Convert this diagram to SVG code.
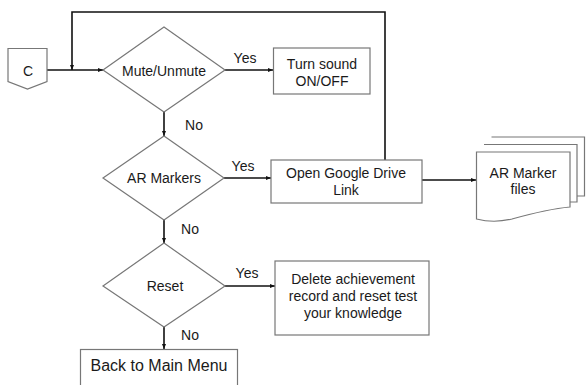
<svg xmlns="http://www.w3.org/2000/svg" width="587" height="385" viewBox="0 0 587 385">
<defs>
<style>
.shape{fill:#fff;stroke:#777;stroke-width:1.2}
.conn{fill:none;stroke:#111;stroke-width:1.6}
text{font-family:"Liberation Sans",Arial,sans-serif;font-size:14px;fill:#1a1a1a;text-anchor:middle;dominant-baseline:central}
</style>
<marker id="ah" viewBox="0 0 10 10" refX="10" refY="5" markerWidth="5" markerHeight="5" orient="auto" markerUnits="userSpaceOnUse">
<path d="M0,1 L10,5 L0,9 z" fill="#111"/>
</marker>
</defs>
<rect width="587" height="385" fill="#fff"/>
<g id="connectors">
<path class="conn" d="M47,70 H103" marker-end="url(#ah)"/>
<path class="conn" d="M385,160 V12 H72 V70" marker-end="url(#ah)"/>
<path class="conn" d="M225,70 H273" marker-end="url(#ah)"/>
<path class="conn" d="M164,112 V136" marker-end="url(#ah)"/>
<path class="conn" d="M224,178 H271" marker-end="url(#ah)"/>
<path class="conn" d="M422,180 H476" marker-end="url(#ah)"/>
<path class="conn" d="M164,220 V243" marker-end="url(#ah)"/>
<path class="conn" d="M225,286 H275" marker-end="url(#ah)"/>
<path class="conn" d="M164,327 V349" marker-end="url(#ah)"/>
<text x="245" y="58">Yes</text>
<text x="194" y="125">No</text>
<text x="243" y="166">Yes</text>
<text x="190" y="229">No</text>
<text x="247" y="273">Yes</text>
<text x="190" y="335">No</text>
</g>
<g id="connector-c">
<path class="shape" d="M8,48.5 H47 V81.5 L27.5,89 L8,81.5 Z"/>
<text x="28" y="71">C</text>
</g>
<g id="mute">
<path class="shape" d="M164,27 L225,70 L164,112 L103,70 Z"/>
<text x="164" y="71">Mute/Unmute</text>
</g>
<g id="turn-sound">
<rect class="shape" x="273.5" y="48" width="96.5" height="46"/>
<text x="322" y="64">Turn sound</text>
<text x="322" y="81">ON/OFF</text>
</g>
<g id="ar-markers">
<path class="shape" d="M164,136 L224,178 L164,220 L103,178 Z"/>
<text x="164" y="178">AR Markers</text>
</g>
<g id="open-drive">
<rect class="shape" x="271" y="160" width="151" height="43"/>
<text x="346" y="173">Open Google Drive</text>
<text x="346" y="190">Link</text>
</g>
<g id="ar-files">
<path class="shape" d="M491.5,137 H584.5 V196 H577"/>
<path class="shape" d="M484,144.5 H577 V202 H570"/>
<path class="shape" d="M476.5,152 H570 V207 C548,209 530,214 512,219 C500,222 488,222 476.5,219 Z"/>
<text x="523" y="173">AR Marker</text>
<text x="523" y="189">files</text>
</g>
<g id="reset">
<path class="shape" d="M164,243 L225,286 L164,327 L103,286 Z"/>
<text x="165" y="286">Reset</text>
</g>
<g id="delete">
<rect class="shape" x="275" y="261" width="154" height="74"/>
<text x="353" y="279">Delete achievement</text>
<text x="353" y="296">record and reset test</text>
<text x="353" y="313">your knowledge</text>
</g>
<g id="back">
<rect class="shape" x="80.5" y="349.5" width="157" height="50"/>
<text x="159" y="365" style="font-size:16px">Back to Main Menu</text>
</g>
</svg>
